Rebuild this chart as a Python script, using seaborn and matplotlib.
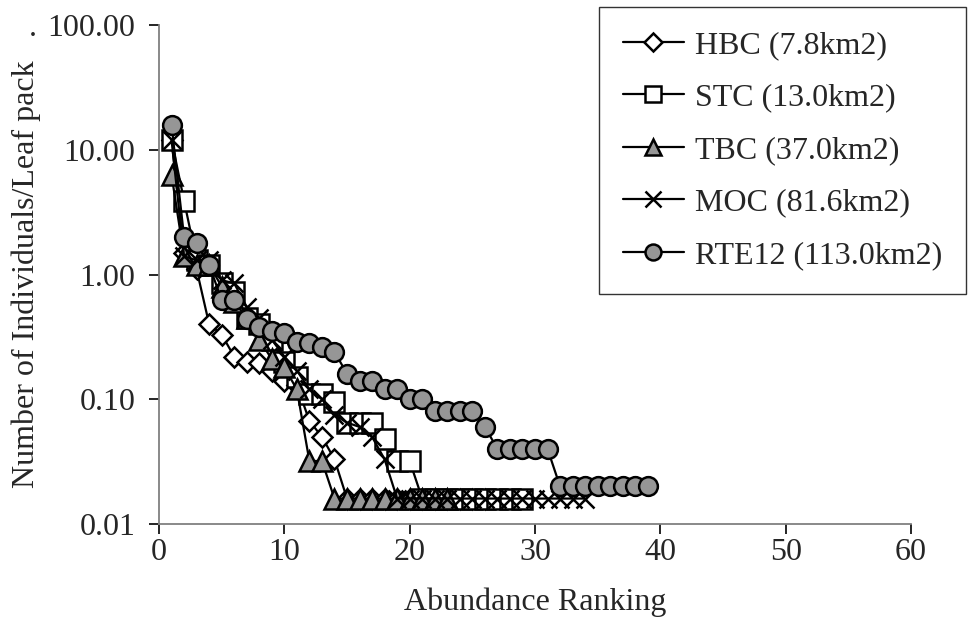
import numpy as np
import pandas as pd
import matplotlib
matplotlib.use("Agg")
import matplotlib.pyplot as plt
import seaborn as sns

# ---- data ----
hbc = [12.0, 1.5, 1.1, 0.40, 0.33, 0.22, 0.20, 0.195, 0.17, 0.14, 0.13, 0.067, 0.05, 0.033] + [0.016] * 12
stc = [12.0, 3.9, 1.3, 1.2, 0.85, 0.72, 0.45, 0.40, 0.30, 0.20, 0.15, 0.11, 0.11, 0.095,
       0.065, 0.065, 0.065, 0.048, 0.032, 0.032] + [0.016] * 9
tbc = [6.3, 1.4, 1.2, 1.2, 0.80, 0.60, 0.45, 0.30, 0.21, 0.18, 0.12, 0.032, 0.032] + [0.016] * 10
moc = [12.0, 1.4, 1.3, 1.3, 0.90, 0.85, 0.55, 0.45, 0.30, 0.22, 0.17, 0.12, 0.10, 0.075,
       0.065, 0.06, 0.05, 0.033] + [0.016] * 16
rte12 = [15.8, 2.0, 1.8, 1.2, 0.62, 0.62, 0.44, 0.38, 0.35, 0.34, 0.29, 0.28, 0.26, 0.24,
         0.16, 0.14, 0.14, 0.12, 0.12, 0.10, 0.10, 0.08, 0.08, 0.08, 0.08, 0.06,
         0.04, 0.04, 0.04, 0.04, 0.04] + [0.02] * 8

series_names = ["HBC (7.8km2)", "STC (13.0km2)", "TBC (37.0km2)", "MOC (81.6km2)", "RTE12 (113.0km2)"]
series_values = [hbc, stc, tbc, moc, rte12]
x_ticks = [0, 10, 20, 30, 40, 50, 60]
y_ticks = [0.01, 0.1, 1, 10, 100]

rows = []
for name, vals in zip(series_names, series_values):
    for i, v in enumerate(vals):
        rows.append({"series": name, "rank": i + 1, "value": v})
df = pd.DataFrame(rows)

sns.set_theme(style="white")
plt.rcParams["font.family"] = ["Liberation Serif", "DejaVu Serif"]

FS = 23
fig = plt.figure(figsize=(9.72, 6.39), dpi=100)
ax = fig.add_axes([159 / 972, 1 - 524 / 639, (911 - 159) / 972, (524 - 25) / 639])

grey = "#969696"
styles = {
    "HBC (7.8km2)": dict(marker="D", markersize=10.5, markerfacecolor="white"),
    "STC (13.0km2)": dict(marker="s", markersize=14, markerfacecolor="white"),
    "TBC (37.0km2)": dict(marker="^", markersize=14, markerfacecolor=grey),
    "MOC (81.6km2)": dict(marker="x", markersize=13),
    "RTE12 (113.0km2)": dict(marker="o", markersize=13.5, markerfacecolor=grey),
}

for name in series_names:
    sub = df[df["series"] == name]
    st = styles[name]
    sns.lineplot(data=sub, x="rank", y="value", ax=ax, color="black", linewidth=1.6,
                 markeredgecolor="black", markeredgewidth=1.8, label=name,
                 sort=False, estimator=None, **st)

ax.set_yscale("log")
ax.set_xlim(0, 60)
ax.set_ylim(0.01, 100)
ax.set_xticks(x_ticks)
ax.set_xticklabels([str(t) for t in x_ticks])
ax.set_yticks(y_ticks)
ax.set_yticklabels([f"{t:.2f}" for t in y_ticks])
ax.yaxis.set_minor_locator(matplotlib.ticker.NullLocator())

for side in ["top", "right"]:
    ax.spines[side].set_visible(False)
for side in ["left", "bottom"]:
    ax.spines[side].set_color("#808080")
    ax.spines[side].set_linewidth(1.3)

ax.tick_params(axis="both", which="major", direction="out", length=7, width=1.2,
               color="black", labelsize=FS, left=True, bottom=True)
ax.tick_params(axis="x", pad=3)
ax.tick_params(axis="y", pad=10)

ax.set_xlabel("Abundance Ranking", fontsize=FS, labelpad=15)
ax.set_ylabel("Number of Individuals/Leaf pack", fontsize=FS, labelpad=5)

fig.text(33 / 972, 1 - 36 / 639, ".", fontsize=FS, ha="center", va="baseline")

leg = ax.legend(loc="upper right", bbox_to_anchor=(966 / 972, 1 - 7 / 639),
                bbox_transform=fig.transFigure, fontsize=FS, frameon=True,
                fancybox=False, edgecolor="black", handlelength=1.9,
                handletextpad=0.35, labelspacing=0.72, borderpad=0.75, borderaxespad=0)
leg.get_frame().set_linewidth(1.0)
for h in leg.legend_handles:
    h.set_markersize(h.get_markersize() * 0.85)

fig.savefig("out.png", dpi=100)
